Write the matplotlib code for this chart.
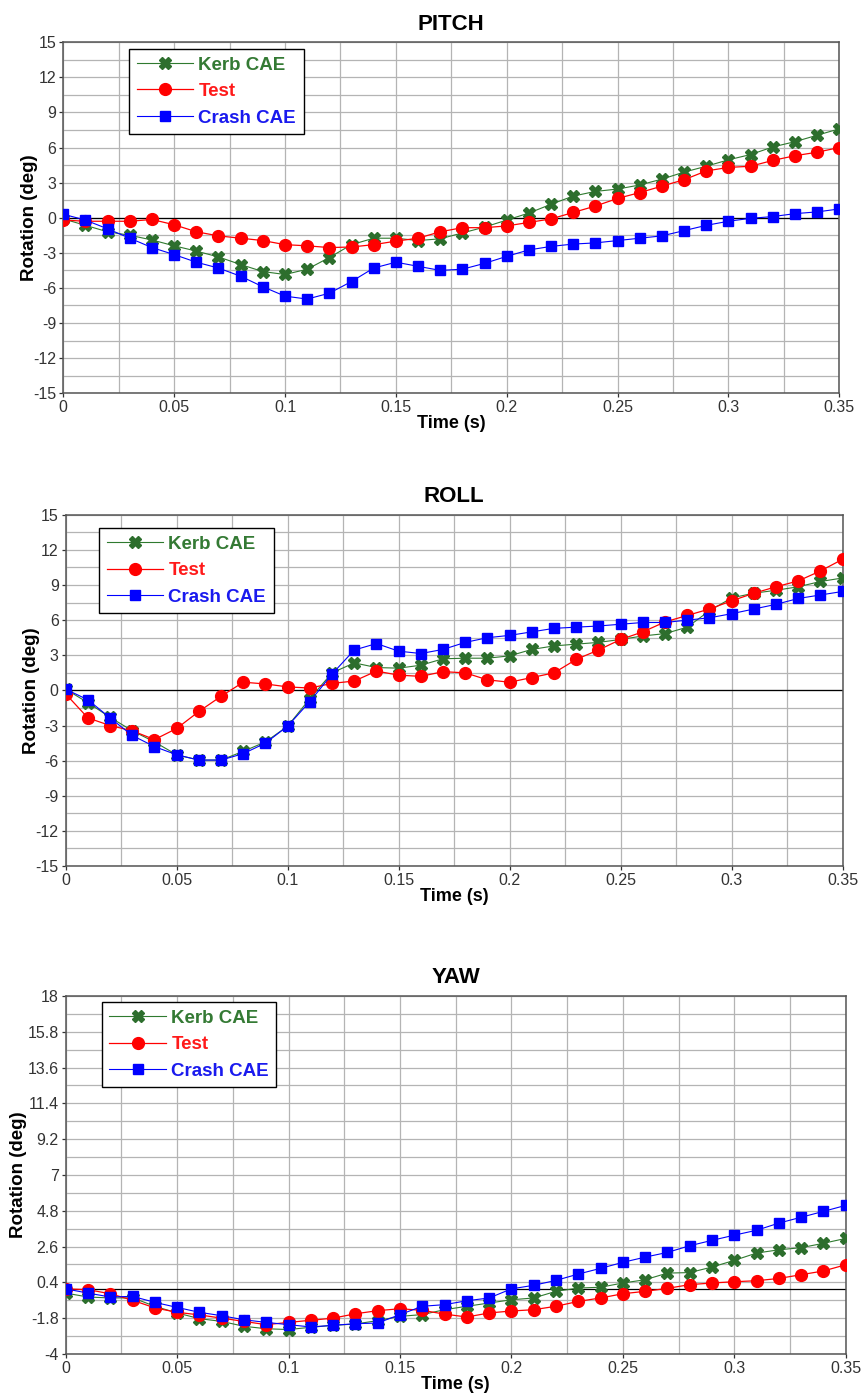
import numpy as np
import matplotlib
matplotlib.use('Agg')
import matplotlib.pyplot as plt
from matplotlib.ticker import FixedLocator

plt.rcParams['font.family'] = ['Liberation Sans', 'DejaVu Sans']

time = np.linspace(0, 0.35, 36)

pitch_kerb = [-0.1, -0.65, -1.2, -1.5, -1.9, -2.4, -2.85, -3.35, -4.0, -4.6, -4.85, -4.4, -3.4, -2.3, -1.75, -1.75, -1.95,
              -1.8, -1.3, -0.8, -0.2, 0.4, 1.15, 1.85, 2.25, 2.45, 2.8, 3.3, 3.9, 4.4, 4.95, 5.4, 6.05, 6.5, 7.05, 7.6]
pitch_test = [-0.2, -0.3, -0.3, -0.3, -0.15, -0.6, -1.2, -1.55, -1.75, -1.95, -2.3, -2.4, -2.55, -2.5, -2.3, -2.0, -1.75,
              -1.2, -0.85, -0.85, -0.7, -0.4, -0.1, 0.45, 1.0, 1.65, 2.15, 2.7, 3.25, 4.0, 4.3, 4.4, 4.9, 5.3, 5.6, 6.0]
pitch_crash = [0.3, -0.2, -0.95, -1.75, -2.55, -3.15, -3.8, -4.3, -5.0, -5.9, -6.7, -6.95, -6.45, -5.45, -4.3, -3.8, -4.15,
               -4.5, -4.4, -3.9, -3.3, -2.75, -2.45, -2.25, -2.15, -1.95, -1.75, -1.55, -1.1, -0.65, -0.3, -0.05, 0.1, 0.35, 0.5, 0.75]

roll_kerb = [0.1, -1.05, -2.3, -3.45, -4.4, -5.5, -5.95, -5.95, -5.2, -4.4, -3.05, -0.7, 1.5, 2.35, 1.95, 1.9, 2.15,
             2.7, 2.75, 2.75, 2.95, 3.5, 3.8, 3.95, 4.1, 4.35, 4.65, 4.85, 5.4, 6.8, 7.9, 8.3, 8.55, 8.85, 9.3, 9.6]
roll_test = [-0.3, -2.35, -3.0, -3.45, -4.2, -3.25, -1.8, -0.5, 0.7, 0.55, 0.3, 0.2, 0.6, 0.8, 1.65, 1.3, 1.2,
             1.6, 1.5, 0.9, 0.7, 1.1, 1.5, 2.65, 3.45, 4.35, 5.0, 5.85, 6.4, 6.95, 7.65, 8.3, 8.85, 9.35, 10.2, 11.2]
roll_crash = [0.1, -0.8, -2.35, -3.85, -4.8, -5.5, -5.95, -5.95, -5.4, -4.5, -3.05, -0.95, 1.4, 3.45, 4.0, 3.35, 3.15,
              3.5, 4.1, 4.5, 4.7, 5.0, 5.3, 5.4, 5.5, 5.65, 5.8, 5.8, 6.0, 6.2, 6.55, 6.95, 7.35, 7.85, 8.15, 8.45]

yaw_kerb = [-0.26, -0.5, -0.56, -0.55, -1.07, -1.48, -1.83, -2.0, -2.3, -2.45, -2.5, -2.36, -2.24, -2.16, -1.95, -1.69, -1.58,
            -1.28, -1.07, -0.87, -0.67, -0.56, -0.15, 0.05, 0.1, 0.36, 0.56, 0.97, 1.0, 1.34, 1.75, 2.2, 2.4, 2.53, 2.8, 3.1]
yaw_test = [0.0, -0.05, -0.3, -0.7, -1.17, -1.44, -1.6, -1.8, -2.0, -2.2, -2.06, -1.93, -1.8, -1.53, -1.34, -1.22, -1.32,
            -1.55, -1.73, -1.48, -1.36, -1.28, -1.07, -0.77, -0.56, -0.3, -0.15, 0.03, 0.26, 0.36, 0.44, 0.5, 0.64, 0.87, 1.1, 1.48]
yaw_crash = [0.0, -0.26, -0.5, -0.46, -0.83, -1.14, -1.44, -1.65, -1.9, -2.06, -2.2, -2.34, -2.24, -2.14, -2.1, -1.58, -1.07,
             -0.97, -0.73, -0.56, 0.0, 0.22, 0.52, 0.91, 1.26, 1.63, 1.95, 2.24, 2.65, 2.98, 3.3, 3.6, 4.04, 4.4, 4.76, 5.13]

x_ticks = [0, 0.05, 0.1, 0.15, 0.2, 0.25, 0.3, 0.35]
x_tick_labels = ['0', '0.05', '0.1', '0.15', '0.2', '0.25', '0.3', '0.35']
py_ticks = [-15, -12, -9, -6, -3, 0, 3, 6, 9, 12, 15]
py_tick_labels = ['-15', '-12', '-9', '-6', '-3', '0', '3', '6', '9', '12', '15']
yaw_ticks = [-4, -1.8, 0.4, 2.6, 4.8, 7, 9.2, 11.4, 13.6, 15.8, 18]
yaw_tick_labels = ['-4', '-1.8', '0.4', '2.6', '4.8', '7', '9.2', '11.4', '13.6', '15.8', '18']

series_names = ['Kerb CAE', 'Test', 'Crash CAE']
line_colors = ['#2f7a2f', '#ff0000', '#0000ff']
text_colors = ['#347a34', '#ff1a1a', '#1a1aee']

panels = [
    # title, data, yticks, labels, grid step, axes rect, legend anchor, ylabel pad
    ('PITCH', [pitch_kerb, pitch_test, pitch_crash], py_ticks, py_tick_labels, 1.5,
     [0.0735, 0.7187, 0.9013, 0.2511], (0.0847, 0.981), -3.5),
    ('ROLL', [roll_kerb, roll_test, roll_crash], py_ticks, py_tick_labels, 1.5,
     [0.0763, 0.3805, 0.9024, 0.2513], (0.0429, 0.962), -3.5),
    ('YAW', [yaw_kerb, yaw_test, yaw_crash], yaw_ticks, yaw_tick_labels, 1.1,
     [0.0763, 0.0315, 0.9059, 0.2561], (0.0465, 0.983), 0),
]

fig = plt.figure(figsize=(8.61, 13.98), dpi=100)

for title, data, yt, ytl, ystep, rect, anchor, ypad in panels:
    ax = fig.add_axes(rect)
    ax.set_xlim(0, 0.35)
    ax.set_ylim(yt[0], yt[-1])
    ax.set_xticks(x_ticks)
    ax.set_xticklabels(x_tick_labels)
    ax.set_yticks(yt)
    ax.set_yticklabels(ytl)
    ax.xaxis.set_minor_locator(FixedLocator(np.arange(0, 0.351, 0.025)))
    ax.yaxis.set_minor_locator(FixedLocator(np.arange(yt[0], yt[-1] + 0.01, ystep)))
    ax.grid(True, which='both', color='#b4b4b4', lw=0.9)
    ax.set_axisbelow(True)
    ax.tick_params(which='minor', length=0)
    ax.tick_params(which='major', direction='out', length=3, width=0.9, color='#333333',
                   labelsize=11.5, labelcolor='#333333', pad=2)
    for s in ax.spines.values():
        s.set_color('#555555')
        s.set_linewidth(1.1)
    ax.axhline(0, color='black', lw=0.9, zorder=1.5)

    ax.plot(time, data[0], color=line_colors[0], lw=0.8, marker='X', ms=9,
            mfc='#2d6e2d', mec='#2d6e2d', label=series_names[0], zorder=3)
    ax.plot(time, data[1], color=line_colors[1], lw=0.9, marker='o', ms=8.5,
            label=series_names[1], zorder=4)
    ax.plot(time, data[2], color=line_colors[2], lw=0.8, marker='s', ms=6.5,
            label=series_names[2], zorder=5)

    ax.set_title(title, fontsize=16, fontweight='bold', pad=9)
    ax.set_xlabel('Time (s)', fontsize=13, fontweight='bold', labelpad=0)
    ax.set_ylabel('Rotation (deg)', fontsize=13.5, fontweight='bold', labelpad=ypad)

    leg = ax.legend(loc='upper left', bbox_to_anchor=anchor, borderaxespad=0,
                    fancybox=False, framealpha=1, edgecolor='black',
                    prop={'size': 13.5, 'weight': 'bold'}, handlelength=3.0,
                    handletextpad=0.3, labelspacing=0.5, borderpad=0.4)
    leg.get_frame().set_linewidth(1.0)
    for txt, c in zip(leg.get_texts(), text_colors):
        txt.set_color(c)

fig.savefig('out.png', dpi=100)
